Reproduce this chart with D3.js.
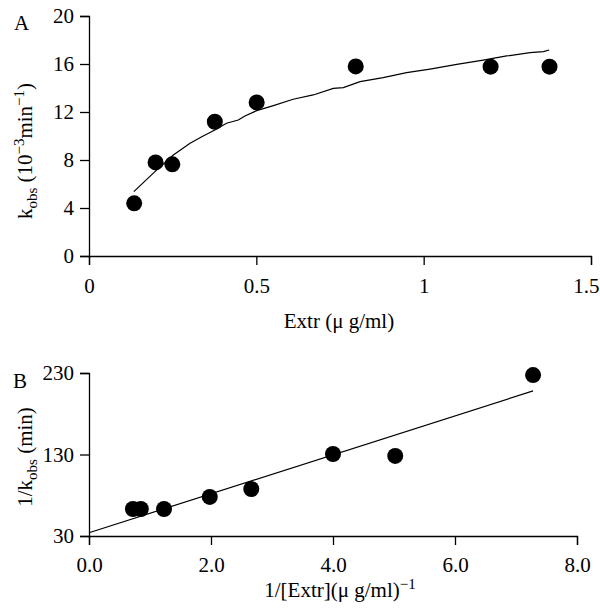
<!DOCTYPE html>
<html>
<head>
<meta charset="utf-8">
<script src="https://cdn.jsdelivr.net/npm/d3@7"></script>
<style>
  html, body { margin: 0; padding: 0; background: #fff; }
  svg text { font-family: "Liberation Serif", "Times New Roman", serif; fill: #000; }
</style>
</head>
<body>
<svg id="chart" width="600" height="610"></svg>
<script>
// ---- Panel A data ----
const extrA = [0.135, 0.199, 0.249, 0.376, 0.501, 0.797, 1.200, 1.376];
const kobsA = [4.39, 7.8, 7.64, 11.19, 12.8, 15.8, 15.78, 15.78];
// fitted curve
const fitX = [0.134, 0.197, 0.252, 0.302, 0.337, 0.376, 0.411, 0.446, 0.466, 0.501, 0.551, 0.610, 0.670, 0.730, 0.760, 0.810, 0.879, 0.949, 1.019, 1.099, 1.178, 1.248, 1.318, 1.358, 1.375];
const fitY = [5.36, 7.03, 8.42, 9.39, 9.94, 10.5, 11.06, 11.33, 11.67, 12.11, 12.53, 13.06, 13.42, 13.97, 14.03, 14.53, 14.86, 15.28, 15.58, 15.97, 16.33, 16.67, 16.94, 17.03, 17.17];
const ticksAx = [0, 0.5, 1, 1.5];
const ticksAy = [0, 4, 8, 12, 16, 20];

// ---- Panel B data ----
const invExtrB = [0.72, 0.85, 1.23, 1.98, 2.66, 4.0, 5.02, 7.28];
const invKobsB = [63.1, 63.1, 63.1, 77.9, 87.7, 130.6, 128.2, 227.5];
const lineBx = [0, 7.28];
const lineBy = [34, 208];
const ticksBx = [0, 2, 4, 6, 8];
const ticksBy = [30, 130, 230];

const svg = d3.select("#chart");
const FS = 21;
const SUB = 15;

// ---------- Panel A ----------
const xA = d3.scaleLinear().domain([0, 1.5]).range([89, 591]);
const yA = d3.scaleLinear().domain([0, 20]).range([256, 16]);

const gAx = svg.append("g").attr("transform", `translate(0,${yA(0)})`)
  .call(d3.axisBottom(xA).tickValues(ticksAx).tickSize(9).tickPadding(13)
        .tickFormat(d => d3.format("")(d)));
// keep the last label inside the picture
gAx.selectAll(".tick text").filter(d => d === 1.5).attr("text-anchor", "end").attr("x", 8);
const gAy = svg.append("g").attr("transform", `translate(${xA(0)},0)`)
  .call(d3.axisLeft(yA).tickValues(ticksAy).tickSize(9).tickPadding(6));

svg.append("path")
  .datum(fitX.map((x, i) => [x, fitY[i]]))
  .attr("fill", "none").attr("stroke", "#000").attr("stroke-width", 1.2)
  .attr("d", d3.line().x(d => xA(d[0])).y(d => yA(d[1])));

svg.append("g").selectAll("circle")
  .data(extrA.map((x, i) => [x, kobsA[i]]))
  .join("circle")
  .attr("cx", d => xA(d[0])).attr("cy", d => yA(d[1])).attr("r", 8).attr("fill", "#000");

// ---------- Panel B ----------
const xB = d3.scaleLinear().domain([0, 8]).range([89, 577]);
const yB = d3.scaleLinear().domain([30, 230]).range([536, 373]);

const gBx = svg.append("g").attr("transform", `translate(0,${yB(30)})`)
  .call(d3.axisBottom(xB).tickValues(ticksBx).tickSize(9).tickPadding(12)
        .tickFormat(d3.format(".1f")));
const gBy = svg.append("g").attr("transform", `translate(${xB(0)},0)`)
  .call(d3.axisLeft(yB).tickValues(ticksBy).tickSize(9).tickPadding(6));

svg.append("path")
  .datum(lineBx.map((x, i) => [x, lineBy[i]]))
  .attr("fill", "none").attr("stroke", "#000").attr("stroke-width", 1.2)
  .attr("d", d3.line().x(d => xB(d[0])).y(d => yB(d[1])));

svg.append("g").selectAll("circle")
  .data(invExtrB.map((x, i) => [x, invKobsB[i]]))
  .join("circle")
  .attr("cx", d => xB(d[0])).attr("cy", d => yB(d[1])).attr("r", 8).attr("fill", "#000");

// axis styling
svg.selectAll(".domain").attr("stroke", "#000").attr("stroke-width", 1.3);
svg.selectAll(".tick line").attr("stroke", "#000").attr("stroke-width", 1.3);
svg.selectAll(".tick text").attr("font-size", FS)
  .attr("font-family", "Liberation Serif, serif").attr("fill", "#000");

// ---------- Labels ----------
svg.append("text").attr("x", 14).attr("y", 29.5).attr("font-size", FS).text("A");
svg.append("text").attr("x", 13).attr("y", 388).attr("font-size", FS).text("B");

// x label A
svg.append("text").attr("x", 339).attr("y", 328).attr("text-anchor", "middle")
  .attr("font-size", FS).text("Extr (μ g/ml)");

// x label B
const tB = svg.append("text").attr("x", 340).attr("y", 597).attr("text-anchor", "middle")
  .attr("font-size", FS);
tB.append("tspan").text("1/[Extr](μ g/ml)");
tB.append("tspan").attr("dy", -8).attr("font-size", SUB).text("−1");

// y label A
const tA = svg.append("text").attr("text-anchor", "middle")
  .attr("transform", "translate(32,151) rotate(-90)").attr("font-size", FS);
tA.append("tspan").text("k");
tA.append("tspan").attr("dy", 5).attr("font-size", SUB).text("obs");
tA.append("tspan").attr("dy", -5).text(" (10");
tA.append("tspan").attr("dy", -8).attr("font-size", SUB).text("−3");
tA.append("tspan").attr("dy", 8).text("min");
tA.append("tspan").attr("dy", -8).attr("font-size", SUB).text("−1");
tA.append("tspan").attr("dy", 8).text(")");

// y label B
const tBy = svg.append("text").attr("text-anchor", "middle")
  .attr("transform", "translate(32,457) rotate(-90)").attr("font-size", FS);
tBy.append("tspan").text("1/k");
tBy.append("tspan").attr("dy", 5).attr("font-size", SUB).text("obs");
tBy.append("tspan").attr("dy", -5).text(" (min)");
</script>
</body>
</html>
